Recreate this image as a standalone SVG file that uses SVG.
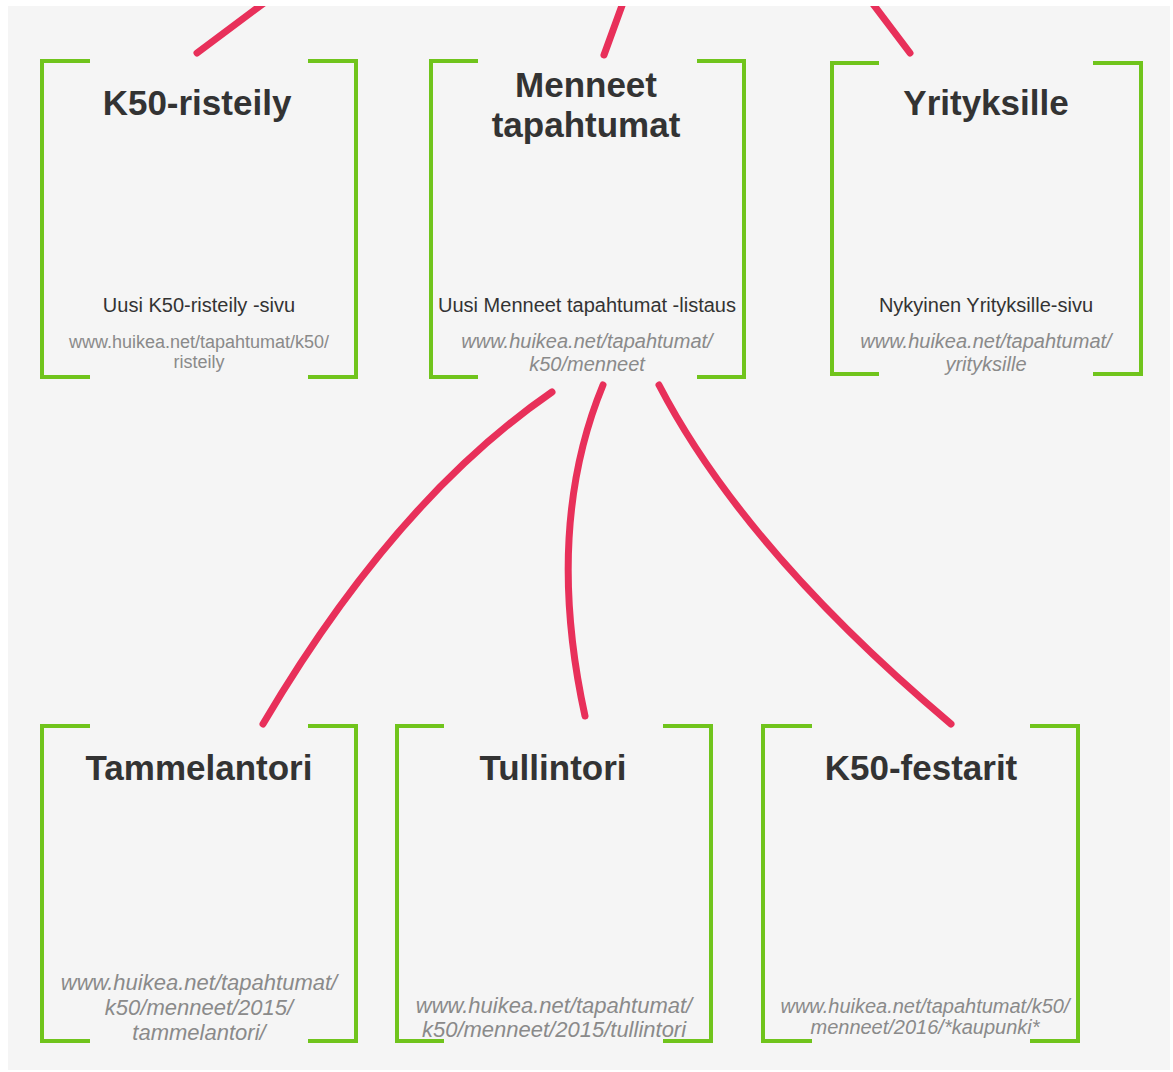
<svg xmlns="http://www.w3.org/2000/svg" width="1173" height="1072" viewBox="0 0 1173 1072">
  <defs>
    <style>
      .bracket { fill: none; stroke: #70c41c; stroke-width: 4; stroke-linecap: butt; stroke-linejoin: miter; }
      .conn { fill: none; stroke: #e8305a; stroke-width: 7; stroke-linecap: round; }
      .title { font-family: "Liberation Sans", Arial, sans-serif; font-weight: bold; font-size: 35px; fill: #333333; text-anchor: middle; }
      .sub { font-family: "Liberation Sans", Arial, sans-serif; font-size: 20px; fill: #333333; text-anchor: middle; }
      .url { font-family: "Liberation Sans", Arial, sans-serif; font-size: 20px; fill: #8a8a8a; text-anchor: middle; font-style: italic; }
      .url18 { font-size: 18px; font-style: normal; }
      .url22 { font-size: 22px; }
    </style>
    <clipPath id="panelClip">
      <rect x="8" y="6" width="1162" height="1064"/>
    </clipPath>
  </defs>
  <rect x="0" y="0" width="1173" height="1072" fill="#ffffff"/>
  <rect x="8" y="6" width="1162" height="1064" fill="#f5f5f5"/>

  <g id="connectors" clip-path="url(#panelClip)">
    <path class="conn" d="M197,53 L268,0"/>
    <path class="conn" d="M604,55 L624,0"/>
    <path class="conn" d="M910,53 L870,0"/>
    <path class="conn" d="M552,392 Q395,500 263,724"/>
    <path class="conn" d="M603,385 Q544,528 585,716"/>
    <path class="conn" d="M659,385 Q744,549 951,724"/>
  </g>

  <g id="node-k50-risteily">
    <path class="bracket" d="M90,61 H42 V377 H90"/>
    <path class="bracket" d="M308,61 H356 V377 H308"/>
    <text class="title" x="197" y="115">K50-risteily</text>
    <text class="sub" x="199" y="312">Uusi K50-risteily -sivu</text>
    <text class="url url18" x="199" y="348">www.huikea.net/tapahtumat/k50/</text>
    <text class="url url18" x="199" y="368">risteily</text>
  </g>

  <g id="node-menneet">
    <path class="bracket" d="M478,61 H431 V377 H478"/>
    <path class="bracket" d="M697,61 H744 V377 H697"/>
    <text class="title" x="586" y="97">Menneet</text>
    <text class="title" x="586" y="137">tapahtumat</text>
    <text class="sub" x="587" y="312">Uusi Menneet tapahtumat -listaus</text>
    <text class="url" x="587" y="348">www.huikea.net/tapahtumat/</text>
    <text class="url" x="587" y="371">k50/menneet</text>
  </g>

  <g id="node-yrityksille">
    <path class="bracket" d="M879,63 H832 V374 H879"/>
    <path class="bracket" d="M1093,63 H1141 V374 H1093"/>
    <text class="title" x="986" y="115">Yrityksille</text>
    <text class="sub" x="986" y="312">Nykyinen Yrityksille-sivu</text>
    <text class="url" x="986" y="348">www.huikea.net/tapahtumat/</text>
    <text class="url" x="986" y="371">yrityksille</text>
  </g>

  <g id="node-tammelantori">
    <path class="bracket" d="M90,726 H42 V1041 H90"/>
    <path class="bracket" d="M308,726 H356 V1041 H308"/>
    <text class="title" x="199" y="780">Tammelantori</text>
    <text class="url url22" x="199" y="990">www.huikea.net/tapahtumat/</text>
    <text class="url url22" x="199" y="1015">k50/menneet/2015/</text>
    <text class="url url22" x="199" y="1040">tammelantori/</text>
  </g>

  <g id="node-tullintori">
    <path class="bracket" d="M444,726 H397 V1041 H444"/>
    <path class="bracket" d="M663,726 H711 V1041 H663"/>
    <text class="title" x="553" y="780">Tullintori</text>
    <text class="url url22" x="554" y="1013">www.huikea.net/tapahtumat/</text>
    <text class="url url22" x="554" y="1037">k50/menneet/2015/tullintori</text>
  </g>

  <g id="node-k50-festarit">
    <path class="bracket" d="M812,726 H763 V1041 H812"/>
    <path class="bracket" d="M1030,726 H1078 V1041 H1030"/>
    <text class="title" x="921" y="780">K50-festarit</text>
    <text class="url" x="925" y="1013">www.huikea.net/tapahtumat/k50/</text>
    <text class="url" x="925" y="1034">menneet/2016/*kaupunki*</text>
  </g>
</svg>
